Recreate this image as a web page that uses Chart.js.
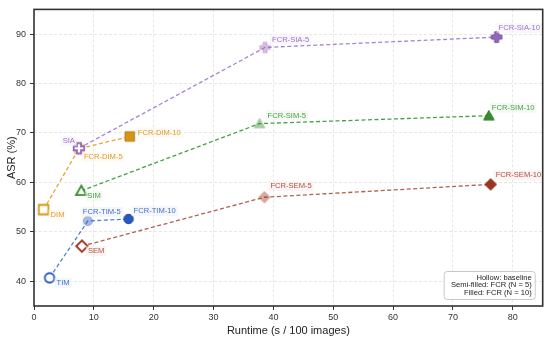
<!DOCTYPE html>
<html>
<head>
<meta charset="utf-8">
<script src="https://cdn.jsdelivr.net/npm/chart.js@4"></script>
<style>
  html, body { margin: 0; padding: 0; background: #fff; }
  #wrap { width: 550px; height: 338px; }
</style>
</head>
<body>
<div id="wrap"><canvas id="chart" width="550" height="338"></canvas></div>
<script>
// Runtime (s / 100 images) and ASR (%) per attack: baseline, FCR (N = 5), FCR (N = 10)
const siaRuntime = [7.5, 38.6, 77.3];
const siaASR = [66.9, 87.3, 89.4];
const siaLabels = ["SIA", "FCR-SIA-5", "FCR-SIA-10"];

const dimRuntime = [1.6, 7.5, 16.0];
const dimASR = [54.5, 66.8, 69.3];
const dimLabels = ["DIM", "FCR-DIM-5", "FCR-DIM-10"];

const simRuntime = [7.9, 37.7, 76.0];
const simASR = [58.3, 71.9, 73.5];
const simLabels = ["SIM", "FCR-SIM-5", "FCR-SIM-10"];

const timRuntime = [2.6, 9.0, 15.8];
const timASR = [40.7, 52.2, 52.6];
const timLabels = ["TIM", "FCR-TIM-5", "FCR-TIM-10"];

const semRuntime = [8.0, 38.5, 76.3];
const semASR = [47.1, 57.0, 59.6];
const semLabels = ["SEM", "FCR-SEM-5", "FCR-SEM-10"];

const xTicks = [0, 10, 20, 30, 40, 50, 60, 70, 80];
const yTicks = [40, 50, 60, 70, 80, 90];
const legendLines = ["Hollow: baseline", "Semi-filled: FCR (N = 5)", "Filled: FCR (N = 10)"];

// Styling per series (colour, marker, label offsets in px)
const seriesStyle = [
  { runtime: siaRuntime, asr: siaASR, labels: siaLabels, shape: "plus",
    color: [148, 103, 189], line: "#a584d6", text: "#9a72c8",
    offsets: [[-4, -7, "right"], [7, -8, "left"], [2, -9, "left"]] },
  { runtime: dimRuntime, asr: dimASR, labels: dimLabels, shape: "square",
    color: [214, 150, 20], line: "#e5a534", text: "#dd9a2a",
    offsets: [[7, 5, "left"], [5, 8, "left"], [8, -4, "left"]] },
  { runtime: simRuntime, asr: simASR, labels: simLabels, shape: "triangle",
    color: [52, 140, 44], line: "#44a046", text: "#49a044",
    offsets: [[6, 5, "left"], [8, -8, "left"], [3, -8, "left"]] },
  { runtime: timRuntime, asr: timASR, labels: timLabels, shape: "circle",
    color: [38, 88, 190], line: "#5a80cc", text: "#3f72c2",
    offsets: [[7, 5, "left"], [-5, -9, "left"], [5, -8, "left"]] },
  { runtime: semRuntime, asr: semASR, labels: semLabels, shape: "diamond",
    color: [160, 50, 30], line: "#b06050", text: "#b34a3c",
    offsets: [[6, 5, "left"], [6, -11, "left"], [5, -9, "left"]] },
];

function rgba(c, a) {
  return `rgba(${c[0]}, ${c[1]}, ${c[2]}, ${a})`;
}

// Build marker image: mode 0 = hollow, 1 = semi-filled, 2 = filled
function makeMarker(shape, mode, color) {
  const size = 10.5;
  const s = 18;
  const cv = document.createElement("canvas");
  cv.width = s;
  cv.height = s;
  const g = cv.getContext("2d");
  const m = s / 2, r = size / 2;
  g.beginPath();
  if (shape === "circle") {
    g.arc(m, m, r - 0.5, 0, Math.PI * 2);
  } else if (shape === "square") {
    g.rect(m - r + 0.5, m - r + 0.5, size - 1, size - 1);
  } else if (shape === "triangle") {
    g.moveTo(m, m - r);
    g.lineTo(m + r, m + r * 0.8);
    g.lineTo(m - r, m + r * 0.8);
    g.closePath();
  } else if (shape === "diamond") {
    g.moveTo(m, m - r - 0.5);
    g.lineTo(m + r + 0.5, m);
    g.lineTo(m, m + r + 0.5);
    g.lineTo(m - r - 0.5, m);
    g.closePath();
  } else if (shape === "plus") {
    const a = r / 2.6;
    const pts = [[-a, -r], [a, -r], [a, -a], [r, -a], [r, a], [a, a], [a, r], [-a, r], [-a, a], [-r, a], [-r, -a], [-a, -a]];
    pts.forEach(([px, py], i) => (i ? g.lineTo(m + px, m + py) : g.moveTo(m + px, m + py)));
    g.closePath();
  }
  g.lineJoin = "miter";
  if (mode === 0) {
    g.fillStyle = "#fff";
    g.fill();
    g.lineWidth = 1.8;
    g.strokeStyle = rgba(color, 1);
    g.stroke();
  } else if (mode === 1) {
    g.fillStyle = rgba(color, 0.42);
    g.fill();
    g.lineWidth = 1;
    g.strokeStyle = rgba(color, 0.3);
    g.stroke();
  } else {
    g.fillStyle = rgba(color, 1);
    g.fill();
    g.lineWidth = 1;
    g.strokeStyle = rgba(color.map((v) => v * 0.8), 1);
    g.stroke();
  }
  return cv;
}

const datasets = seriesStyle.map((st) => ({
  label: st.labels[0],
  data: st.runtime.map((x, i) => ({ x: x, y: st.asr[i] })),
  showLine: true,
  borderColor: st.line,
  borderWidth: 1.3,
  borderDash: [4, 2.5],
  pointStyle: [0, 1, 2].map((mode) => makeMarker(st.shape, mode, st.color)),
  pointRadius: 6,
  pointHoverRadius: 6,
}));

// Point labels, legend box and frame
const decorPlugin = {
  id: "decor",
  afterDatasetsDraw(chart) {
    const ctx = chart.ctx;
    ctx.save();
    ctx.font = '7.6px "Liberation Sans", Arial, sans-serif';
    ctx.textBaseline = "middle";
    seriesStyle.forEach((st, di) => {
      const meta = chart.getDatasetMeta(di);
      meta.data.forEach((pt, i) => {
        const [dx, dy, align] = st.offsets[i];
        const text = st.labels[i];
        const w = ctx.measureText(text).width;
        const tx = pt.x + dx;
        const ty = pt.y + dy;
        const left = align === "right" ? tx - w : tx;
        ctx.fillStyle = "rgba(255,255,255,0.55)";
        ctx.fillRect(left - 2, ty - 5, w + 4, 10);
        ctx.fillStyle = rgba(st.color, 0.05);
        ctx.fillRect(left - 2, ty - 5, w + 4, 10);
        ctx.fillStyle = st.text;
        ctx.textAlign = align;
        ctx.fillText(text, tx, ty);
      });
    });
    ctx.restore();
  },
  afterDraw(chart) {
    const ctx = chart.ctx;
    const a = chart.chartArea;
    ctx.save();
    // legend box
    const bx = a.right - 99, by = a.bottom - 35, bw = 91, bh = 28;
    ctx.beginPath();
    ctx.roundRect(bx + 0.5, by + 0.5, bw, bh, 3);
    ctx.fillStyle = "rgba(255,255,255,0.9)";
    ctx.fill();
    ctx.strokeStyle = "#c8c8c8";
    ctx.lineWidth = 1;
    ctx.stroke();
    ctx.font = '7.6px "Liberation Sans", Arial, sans-serif';
    ctx.fillStyle = "#222";
    ctx.textAlign = "right";
    ctx.textBaseline = "middle";
    legendLines.forEach((line, i) => {
      ctx.fillText(line, bx + bw - 3, by + 6.5 + i * 7.7);
    });
    // frame
    ctx.strokeStyle = "#333";
    ctx.lineWidth = 1.6;
    ctx.strokeRect(a.left, a.top, a.right - a.left, a.bottom - a.top);
    ctx.restore();
  },
};

const tickFont = { family: '"Liberation Sans", Arial, sans-serif', size: 9 };
const titleFont = { family: '"Liberation Sans", Arial, sans-serif', size: 11 };
const gridOpts = {
  color: "rgba(0,0,0,0.12)",
  lineWidth: 0.8,
  tickColor: "#333",
  tickLength: 4,
  tickWidth: 1,
  tickBorderDash: [],
};

new Chart(document.getElementById("chart"), {
  type: "scatter",
  data: { datasets: datasets },
  plugins: [decorPlugin],
  options: {
    responsive: false,
    devicePixelRatio: 1,
    animation: false,
    layout: { padding: { top: 6, right: 5, left: 0, bottom: 0 } },
    plugins: { legend: { display: false }, tooltip: { enabled: false } },
    scales: {
      x: {
        type: "linear",
        min: 0,
        max: 85,
        afterBuildTicks: (s) => { s.ticks = xTicks.map((v) => ({ value: v })); },
        afterFit: (s) => { s.height = 32; },
        grid: gridOpts,
        border: { display: false, dash: [3, 2] },
        ticks: { font: tickFont, color: "#333", padding: 2, maxRotation: 0 },
        title: { display: true, text: "Runtime (s / 100 images)", font: titleFont, color: "#222", padding: { top: 4, bottom: 0 } },
      },
      y: {
        type: "linear",
        min: 35,
        max: 95,
        afterBuildTicks: (s) => { s.ticks = yTicks.map((v) => ({ value: v })); },
        afterFit: (s) => { s.width = 34; },
        grid: gridOpts,
        border: { display: false, dash: [3, 2] },
        ticks: { font: tickFont, color: "#333", padding: 4 },
        title: { display: true, text: "ASR (%)", font: titleFont, color: "#222", padding: { top: 5, bottom: 0 } },
      },
    },
  },
});
</script>
</body>
</html>
